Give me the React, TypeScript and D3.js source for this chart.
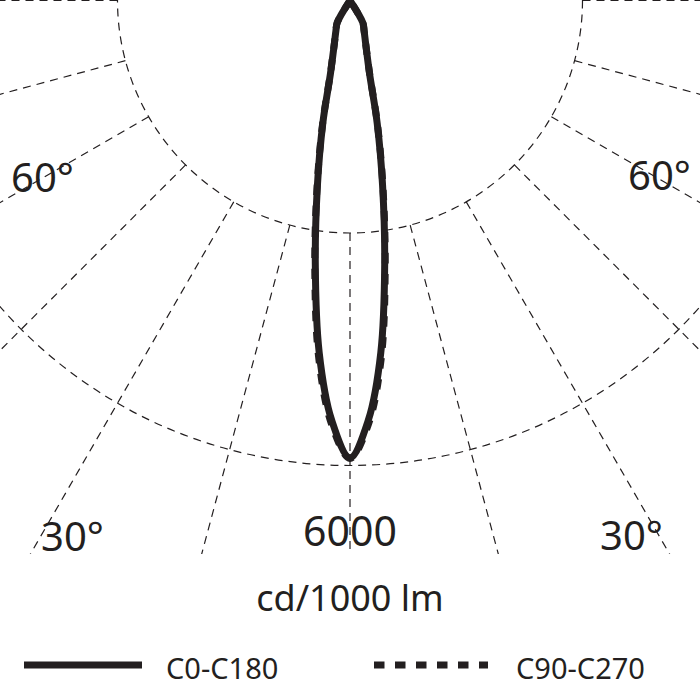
import React from 'react';
import * as d3 from 'd3';

// Gamma angles (deg from nadir) and luminous intensity (cd/1000 lm)
const gammaAngles = [0, 2.5, 5, 7.5, 10, 12.5, 15, 20, 25, 30, 35, 40, 45, 50, 55, 60, 65, 70, 75, 80, 85, 90];
const c0c180 = [5900, 5420, 4560, 3430, 2420, 1620, 970, 590, 430, 330, 0, 0, 0, 0, 0, 0, 0, 0, 0, 0, 0, 0];
const c90c270 = [5910, 5470, 4630, 3480, 2450, 1640, 980, 590, 430, 330, 0, 0, 0, 0, 0, 0, 0, 0, 0, 0, 0, 0];
const ringValues = [3000, 6000];
const spokeAngles = [-90, -75, -60, -45, -30, -15, 0, 15, 30, 45, 60, 75, 90];
const ringLabel = '6000';
const unitLabel = 'cd/1000 lm';
const seriesNames = ['C0-C180', 'C90-C270'];

const INK = '#231f20';
const FONT = '"Noto Sans", "Open Sans", sans-serif';

export default function App() {
  const cx = 350;
  const cy = 0.5;
  const r = d3.scaleLinear().domain([0, 6000]).range([0, 465]);
  const rad = (deg: number) => (deg * Math.PI) / 180;

  const toPts = (vals: number[]) => {
    const left = gammaAngles.map((g, i) => [-g, vals[i]] as [number, number]).reverse();
    const right = gammaAngles.slice(1).map((g, i) => [g, vals[i + 1]] as [number, number]);
    return [...left, ...right];
  };

  const line = d3
    .lineRadial<[number, number]>()
    .angle((d) => Math.PI - rad(d[0]))
    .radius((d) => r(d[1]))
    .curve(d3.curveCatmullRom.alpha(0.5));

  const pathC0 = line(toPts(c0c180)) || '';
  const pathC90 = line(toPts(c90c270)) || '';

  const innerR = r(ringValues[0]);
  const polar = (deg: number, rr: number) => [Math.sin(rad(deg)) * rr, Math.cos(rad(deg)) * rr];

  return (
    <svg
      width={700}
      height={700}
      viewBox="0 0 700 700"
      style={{ position: 'absolute', left: 0, top: 0, background: '#fff' }}
    >
      <defs>
        <clipPath id="gridClip">
          <rect x={0} y={0} width={700} height={554} />
        </clipPath>
      </defs>
      <g clipPath="url(#gridClip)">
        <g transform={`translate(${cx},${cy})`} fill="none" stroke={INK} strokeWidth={1.2} strokeDasharray="8 6">
          {ringValues.map((v) => (
            <circle key={v} r={r(v)} />
          ))}
          {spokeAngles.map((a) => {
            const [x1, y1] = polar(a, innerR);
            const [x2, y2] = polar(a, 1200);
            return <line key={a} x1={x1} y1={y1} x2={x2} y2={y2} />;
          })}
        </g>
      </g>

      <g transform={`translate(${cx},${cy})`} fill="none" stroke={INK} strokeWidth={7} strokeLinejoin="miter">
        <path d={pathC90} strokeDasharray="10.5 10.5" />
        <path d={pathC0} />
      </g>

      <g fill={INK} fontFamily={FONT}>
        <text x={11} y={192} fontSize={40}>60°</text>
        <text x={628} y={190} fontSize={40}>60°</text>
        <text x={41} y={551} fontSize={40}>30°</text>
        <text x={600} y={550} fontSize={40}>30°</text>
        <text x={350} y={546} fontSize={41} textAnchor="middle">{ringLabel}</text>
        <text x={350} y={611} fontSize={36} textAnchor="middle">{unitLabel}</text>
        <text x={166} y={679} fontSize={29}>{seriesNames[0]}</text>
        <text x={516} y={679} fontSize={29}>{seriesNames[1]}</text>
      </g>

      <g stroke={INK} strokeWidth={7}>
        <line x1={24} y1={665} x2={142} y2={665} />
        <line x1={374} y1={665} x2={488} y2={665} strokeDasharray="10.5 10.5" />
      </g>
    </svg>
  );
}
